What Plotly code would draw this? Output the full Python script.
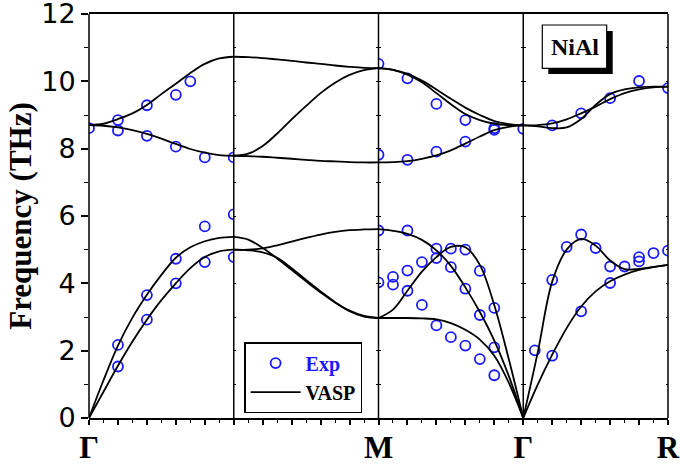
import plotly.graph_objects as go
from plotly.subplots import make_subplots

# fractional position along each high-symmetry segment
q = [0.0, 0.1, 0.2, 0.3, 0.4, 0.5, 0.6, 0.7, 0.8, 0.9, 1.0]

# ---- VASP phonon branches (THz) ----
# Gamma - X
gx_opt_lo = [8.70, 8.68, 8.63, 8.55, 8.44, 8.30, 8.14, 7.99, 7.88, 7.81, 7.79]
gx_opt_hi = [8.70, 8.74, 8.88, 9.05, 9.30, 9.62, 9.93, 10.25, 10.52, 10.68, 10.73]
gx_ac_hi = [0.0, 1.12, 2.15, 2.98, 3.66, 4.25, 4.76, 5.07, 5.25, 5.35, 5.38]
gx_ac_lo = [0.0, 0.78, 1.55, 2.27, 2.92, 3.50, 4.00, 4.45, 4.78, 4.95, 5.00]
# X - M
xm_opt_top = [10.73, 10.72, 10.69, 10.65, 10.61, 10.56, 10.52, 10.47, 10.43, 10.40, 10.39]
xm_opt_mid = [7.79, 7.85, 8.08, 8.45, 8.87, 9.27, 9.65, 9.96, 10.19, 10.33, 10.39]
xm_opt_bot = [7.79, 7.78, 7.76, 7.73, 7.70, 7.67, 7.64, 7.62, 7.60, 7.59, 7.59]
xm_ac_up = [5.00, 5.00, 5.04, 5.13, 5.24, 5.35, 5.45, 5.53, 5.58, 5.60, 5.61]
xm_ac_d1 = [5.38, 5.30, 5.05, 4.74, 4.40, 4.06, 3.73, 3.43, 3.19, 3.03, 2.97]
xm_ac_d2 = [5.00, 4.98, 4.92, 4.76, 4.45, 4.10, 3.76, 3.44, 3.17, 3.01, 2.97]
# M - Gamma
mg_opt_a = [10.39, 10.34, 10.22, 10.02, 9.76, 9.48, 9.22, 9.00, 8.82, 8.73, 8.69]
mg_opt_b = [10.39, 10.34, 10.20, 9.97, 9.65, 9.32, 9.03, 8.85, 8.74, 8.70, 8.69]
mg_opt_lo = [7.59, 7.60, 7.63, 7.70, 7.80, 7.95, 8.15, 8.36, 8.55, 8.65, 8.69]
mg_ac_1 = [2.97, 3.22, 3.78, 4.35, 4.78, 5.08, 5.07, 4.55, 3.35, 1.75, 0.0]
mg_ac_2 = [5.61, 5.56, 5.47, 5.29, 4.98, 4.52, 3.88, 3.15, 2.30, 1.25, 0.0]
mg_ac_3 = [2.97, 2.97, 2.97, 2.96, 2.93, 2.82, 2.62, 2.33, 1.85, 1.05, 0.0]
# Gamma - R
gr_ac_hi = [0.0, 1.95, 4.05, 5.00, 5.32, 5.12, 4.68, 4.42, 4.43, 4.49, 4.55]
gr_ac_lo = [0.0, 0.99, 1.88, 2.67, 3.31, 3.76, 4.06, 4.26, 4.40, 4.48, 4.55]
gr_opt_p = [8.69, 8.70, 8.75, 8.87, 9.05, 9.25, 9.47, 9.65, 9.76, 9.82, 9.84]
gr_opt_q = [8.69, 8.66, 8.61, 8.63, 8.88, 9.30, 9.62, 9.76, 9.82, 9.84, 9.84]

# ---- Experimental points (position along segment, frequency THz) ----
gx_exp_q = [0.0, 0.2, 0.2, 0.4, 0.4, 0.6, 0.6, 0.7, 0.8, 1.0, 0.8, 1.0,
            0.2, 0.2, 0.4, 0.4, 0.6, 0.6, 0.8, 1.0]
gx_exp_f = [8.61, 8.85, 8.54, 9.29, 8.38, 9.60, 8.06, 10.00, 7.74, 7.74, 5.69, 6.05,
            2.17, 1.53, 3.65, 2.92, 4.73, 4.00, 4.63, 4.78]
mg_exp_q = [0.0, 0.2, 0.4, 0.6, 0.8, 0.8, 1.0, 0.0, 0.2, 0.4, 0.6,
            0.0, 0.2, 0.0, 0.1, 0.1, 0.2, 0.2, 0.3, 0.3, 0.4, 0.4, 0.4,
            0.5, 0.5, 0.5, 0.6, 0.6, 0.6, 0.7, 0.7, 0.7, 0.8, 0.8, 0.8]
mg_exp_f = [10.52, 10.09, 9.33, 8.85, 8.61, 8.56, 8.59, 7.82, 7.67, 7.91, 8.21,
            5.57, 5.57, 4.03, 4.19, 3.96, 4.38, 3.78, 4.63, 3.36, 5.03, 4.75, 2.75,
            5.03, 4.48, 2.40, 5.00, 3.84, 2.15, 4.37, 3.06, 1.75, 3.27, 2.10, 1.27]
gr_exp_q = [0.08, 0.2, 0.2, 0.3, 0.4, 0.4, 0.5, 0.6, 0.6, 0.7, 0.8, 0.8, 0.9, 1.0,
            0.2, 0.4, 0.6, 0.8, 1.0]
gr_exp_f = [2.01, 1.85, 4.10, 5.08, 5.45, 3.17, 5.05, 4.50, 4.01, 4.50, 4.78, 4.65, 4.90, 4.97,
            8.69, 9.05, 9.50, 10.01, 9.80]

seg_start = [0.0, 1.0, 2.0, 3.0]
seg_bands = [
    [gx_opt_lo, gx_opt_hi, gx_ac_hi, gx_ac_lo],
    [xm_opt_top, xm_opt_mid, xm_opt_bot, xm_ac_up, xm_ac_d1, xm_ac_d2],
    [mg_opt_a, mg_opt_b, mg_opt_lo, mg_ac_1, mg_ac_2, mg_ac_3],
    [gr_ac_hi, gr_ac_lo, gr_opt_p, gr_opt_q],
]
seg_exp = [(gx_exp_q, gx_exp_f), ([], []), (mg_exp_q, mg_exp_f), (gr_exp_q, gr_exp_f)]
seg_ticktext = [
    ["Γ", "", "", "", "", ""],
    ["", "", "", "", "", ""],
    ["M", "", "", "", "", "Γ"],
    ["", "", "", "", "", "R"],
]
y_ticks = [0, 2, 4, 6, 8, 10, 12]

W, H = 680, 465
ML, MR, MT, MB = 89, 12, 14, 47
PW, PH = W - ML - MR, H - MT - MB


def px(xp):
    return (xp - ML) / PW


def py(yp):
    return (H - MB - yp) / PH


fig = make_subplots(rows=1, cols=4, shared_yaxes=True, horizontal_spacing=0)

BLUE = "#1a1aff"
exp_shown = False
line_shown = False
for i in range(4):
    s = seg_start[i]
    eq, ef = seg_exp[i]
    if eq:
        fig.add_trace(go.Scatter(
            x=[s + v for v in eq], y=ef, mode="markers",
            marker=dict(symbol="circle-open", size=10, color=BLUE,
                        line=dict(width=1.8, color=BLUE)),
            name=f"<span style='color:{BLUE}'>Exp</span>", legendgroup="exp",
            showlegend=not exp_shown, cliponaxis=True), row=1, col=i + 1)
        exp_shown = True
    for band in seg_bands[i]:
        fig.add_trace(go.Scatter(
            x=[s + v for v in q], y=band, mode="lines",
            line=dict(color="black", width=1.8, shape="spline", smoothing=1.0),
            name="VASP", legendgroup="vasp", showlegend=not line_shown), row=1, col=i + 1)
        line_shown = True

serif_b = dict(family="Liberation Serif", weight="bold", color="black")

for i in range(4):
    s = seg_start[i]
    ax = "xaxis" if i == 0 else f"xaxis{i + 1}"
    fig.layout[ax].update(
        range=[s, s + 1], showgrid=False, zeroline=False, automargin=False,
        showline=True, linecolor="black", linewidth=1.5, mirror=True,
        ticks="outside", ticklen=5, tickwidth=1.5, tickcolor="black",
        tickmode="array", tickvals=[s + k * 0.2 for k in range(6)],
        ticktext=seg_ticktext[i], ticklabeloverflow="allow", ticklabelstandoff=-4,
        tickfont=dict(size=31, **serif_b),
        minor=dict(tickmode="array", tickvals=[s + 0.1 + k * 0.2 for k in range(5)],
                   ticks="outside", ticklen=3, tickwidth=1.2, tickcolor="black"),
    )
    # small inward ticks along the top edge
    fig.layout[f"xaxis{i + 5}"] = dict(
        overlaying="x" if i == 0 else f"x{i + 1}", anchor="y", side="top",
        range=[s, s + 1], showgrid=False, zeroline=False, showline=False,
        automargin=False, showticklabels=False,
        ticks="inside", ticklen=2, tickwidth=1, tickcolor="black",
        tickmode="array", tickvals=[s + k * 0.1 for k in range(1, 10)],
    )
    ay = "yaxis" if i == 0 else f"yaxis{i + 1}"
    common = dict(range=[0, 12], showgrid=False, zeroline=False, showline=False,
                  automargin=False)
    if i == 0:
        fig.layout[ay].update(
            **common, ticks="outside", ticklen=7, tickwidth=1.5,
            tickcolor="black", tickmode="array", tickvals=y_ticks,
            ticktext=[str(v) for v in y_ticks], ticklabeloverflow="allow",
            tickfont=dict(family="DejaVu Sans", size=27, color="black"),
            minor=dict(tickmode="array", tickvals=[1, 3, 5, 7, 9, 11], ticks="outside",
                       ticklen=4, tickwidth=1.2, tickcolor="black"),
            title=dict(text="Frequency (THz)", font=dict(size=31, **serif_b), standoff=0),
        )
    else:
        fig.layout[ay].update(
            **common, mirror="ticks", ticks="inside", ticklen=2.5, tickwidth=1.2,
            tickcolor="black", tickmode="linear", tick0=0, dtick=1, showticklabels=False,
        )

# panel separators / frame verticals
for xv in [0.0, 0.25, 0.5, 0.75, 1.0]:
    fig.add_shape(type="line", xref="paper", yref="paper", x0=xv, x1=xv, y0=0, y1=1,
                  line=dict(color="black", width=1.5))

# NiAl label with drop shadow
fig.add_shape(type="rect", xref="paper", yref="paper",
              x0=px(548.3), x1=px(612.7), y0=py(74), y1=py(31),
              fillcolor="black", line=dict(width=0))
fig.add_shape(type="rect", xref="paper", yref="paper",
              x0=px(542.3), x1=px(606.7), y0=py(68.3), y1=py(25),
              fillcolor="white", line=dict(color="black", width=1.2))
fig.add_annotation(text="NiAl", xref="paper", yref="paper",
                   x=px(574.5), y=py(46.7), showarrow=False,
                   xanchor="center", yanchor="middle",
                   font=dict(size=24, **serif_b))

fig.update_layout(
    width=W, height=H, margin=dict(l=ML, r=MR, t=MT, b=MB, autoexpand=False),
    plot_bgcolor="white", paper_bgcolor="white",
    legend=dict(x=px(244.3), y=py(342.3), xanchor="left", yanchor="top",
                bordercolor="black", borderwidth=1.3, bgcolor="white",
                font=dict(size=20, **serif_b), itemwidth=50, tracegroupgap=0),
)

fig.write_html("out.html")
